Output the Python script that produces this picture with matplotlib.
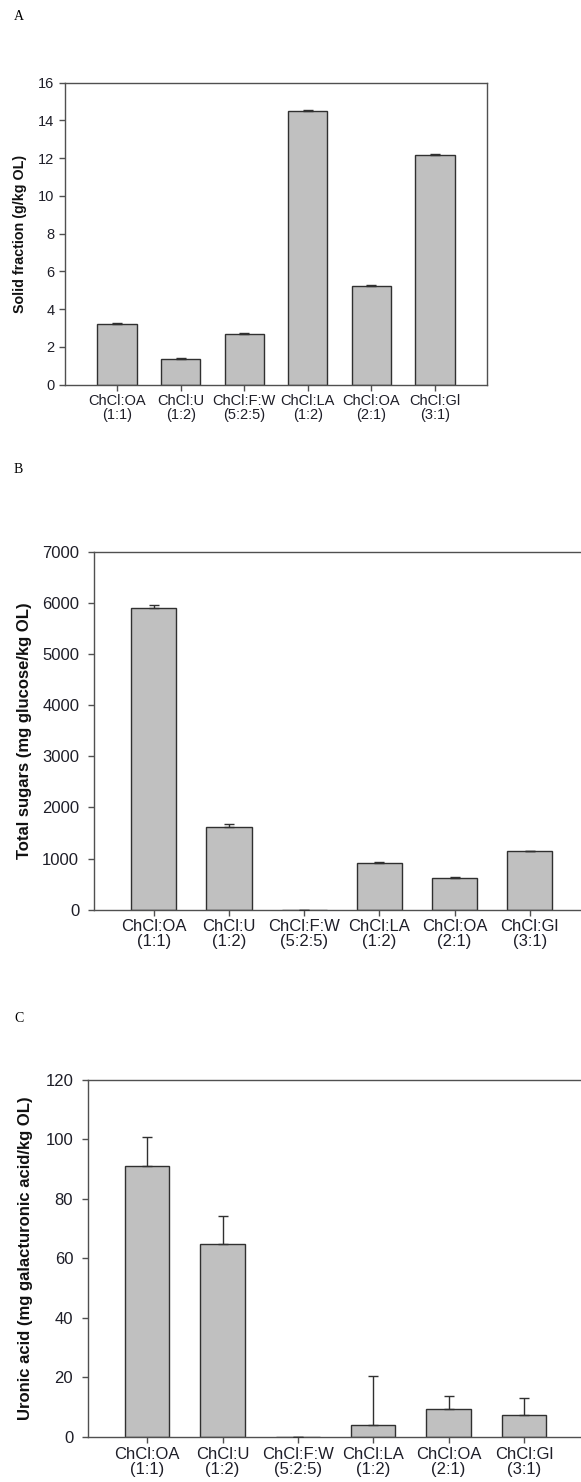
import matplotlib
matplotlib.use('Agg')
import matplotlib.pyplot as plt

plt.rcParams['font.family'] = ['Liberation Sans', 'DejaVu Sans']

solvents = ['ChCl:OA\n(1:1)', 'ChCl:U\n(1:2)', 'ChCl:F:W\n(5:2:5)',
            'ChCl:LA\n(1:2)', 'ChCl:OA\n(2:1)', 'ChCl:Gl\n(3:1)']

solid = [3.21, 1.38, 2.71, 14.52, 5.22, 12.19]
solid_err = [0.04, 0.05, 0.05, 0.06, 0.05, 0.02]

sugars = [5897, 1611, 0, 915, 620, 1148]
sugars_err = [65, 65, 0, 12, 12, 4]

uronic = [91.1, 64.8, 0, 3.9, 9.5, 7.5]
uronic_err = [9.7, 9.3, 0, 16.7, 4.4, 5.6]

BAR = '#c0c0c0'
EDGE = '#303030'
AXC = '#505050'
TXT = '#1e1e28'

fig = plt.figure(figsize=(5.81, 14.82), dpi=100)


def panel(rect, vals, errs, ylim, yticks, ylabel, fs, xmargin, width,
          ylab_fs, ylab_x, ypad):
    ax = fig.add_axes(rect)
    x = list(range(len(vals)))
    ax.bar(x, vals, width=width, color=BAR, edgecolor=EDGE, linewidth=1.0, zorder=2)
    ax.errorbar(x, vals, yerr=[[0] * len(errs), errs], fmt='none',
                ecolor=EDGE, elinewidth=1.0, capsize=3.5, capthick=1.0, zorder=3)
    ax.set_xlim(-xmargin, len(vals) - 1 + xmargin)
    ax.set_ylim(*ylim)
    ax.set_yticks(yticks)
    ax.set_xticks(x)
    ax.set_xticklabels(solvents, fontsize=fs, color=TXT, linespacing=1.0)
    ax.tick_params(axis='y', labelsize=fs, colors=AXC, labelcolor=TXT,
                   direction='out', length=4, width=1, pad=ypad)
    ax.tick_params(axis='x', colors=AXC, labelcolor=TXT,
                   direction='out', length=4, width=1, pad=3)
    for s in ax.spines.values():
        s.set_color(AXC)
        s.set_linewidth(1.0)
    ax.set_ylabel(ylabel, fontsize=ylab_fs, fontweight='bold', color='#111111')
    ax.yaxis.set_label_coords(ylab_x, 0.5)
    return ax


axA = panel([0.1119, 0.7404, 0.7263, 0.2038], solid, solid_err, (0, 16),
            range(0, 17, 2), 'Solid fraction (g/kg OL)', 10.5, 0.82, 0.62,
            10.3, -0.090, 3.5)
axB = panel([0.1613, 0.3862, 0.854, 0.2413], sugars, sugars_err, (0, 7000),
            range(0, 7001, 1000), 'Total sugars (mg glucose/kg OL)', 12, 0.8, 0.6,
            12, -0.124, 6.5)
axC = panel([0.151, 0.0304, 0.853, 0.2409], uronic, uronic_err, (0, 120),
            range(0, 121, 20), 'Uronic acid (mg galacturonic acid/kg OL)', 12, 0.79, 0.59,
            12, -0.110, 6.5)

for lab, ypix in [('A', 17), ('B', 469), ('C', 1019)]:
    fig.text(14 / 581, 1 - ypix / 1482, lab, family='Liberation Serif',
             fontsize=10, ha='left', va='center')

fig.savefig('out.png', dpi=100)
